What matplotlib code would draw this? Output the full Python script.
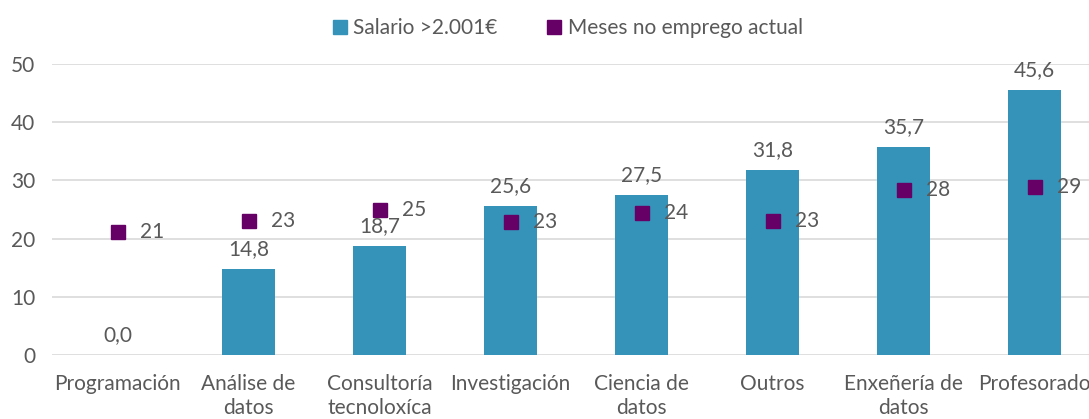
import numpy as np
import matplotlib.pyplot as plt
from matplotlib.lines import Line2D

categories = ['Programación', 'Análise de\ndatos', 'Consultoría\ntecnoloxíca', 'Investigación',
              'Ciencia de\ndatos', 'Outros', 'Enxeñería de\ndatos', 'Profesorado']
salario = [0.0, 14.8, 18.7, 25.6, 27.5, 31.8, 35.7, 45.6]
meses = [21.1, 23.1, 25.0, 22.8, 24.4, 23.0, 28.4, 28.8]

bar_color = '#3593BA'
mk_color = '#660066'
txt_color = '#595959'

plt.rcParams['font.family'] = ['Lato', 'DejaVu Sans']

fig = plt.figure(figsize=(10.89, 4.19), dpi=100)
ax = fig.add_axes([52 / 1089, 64 / 419, 1048 / 1089, 291 / 419])

x = np.arange(len(categories))
ax.bar(x, salario, width=0.4, color=bar_color, zorder=2)
ax.plot(x, meses, linestyle='none', marker='s', markersize=9.5, color=mk_color, zorder=3)

for xi, v in zip(x, salario):
    ax.annotate(f'{v:.1f}'.replace('.', ','), (xi, v), xytext=(0, 7), textcoords='offset points',
                ha='center', va='bottom', fontsize=15, color=txt_color, annotation_clip=False)
for xi, v in zip(x, meses):
    ax.annotate(f'{v:.0f}', (xi, v), xytext=(16, 0), textcoords='offset points',
                ha='left', va='center', fontsize=15, color=txt_color, annotation_clip=False)

ax.set_xlim(-0.5, 7.5)
ax.set_ylim(0, 50)
ax.set_yticks(range(0, 51, 10))
ax.set_xticks(x)
ax.set_xticklabels(categories, fontsize=15, color=txt_color, linespacing=1.25)
ax.tick_params(axis='y', labelsize=15, labelcolor=txt_color, length=0, pad=12)
ax.tick_params(axis='x', length=0, pad=14)
for s in ax.spines.values():
    s.set_visible(False)
ax.grid(axis='y', color='#D9D9D9', linewidth=1.2, zorder=0)
ax.set_axisbelow(True)

handles = [Line2D([], [], linestyle='none', marker='s', markersize=10.5, color=bar_color),
           Line2D([], [], linestyle='none', marker='s', markersize=10.5, color=mk_color)]
fig.legend(handles, ['Salario >2.001€', 'Meses no emprego actual'], loc='center',
           bbox_to_anchor=(566 / 1089, 1 - 28 / 419), ncol=2, frameon=False, fontsize=15,
           labelcolor=txt_color, handletextpad=0.15, columnspacing=2.2, handlelength=1.0)

fig.savefig('out.png', dpi=100)
